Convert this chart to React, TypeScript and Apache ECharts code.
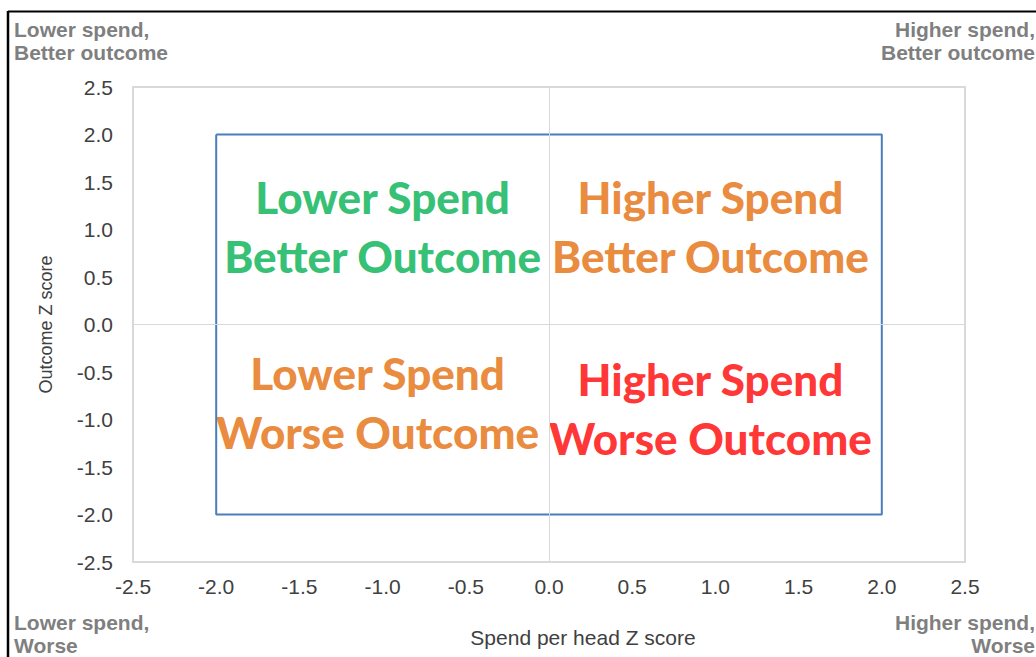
import React, { useEffect, useRef } from "react";
import * as echarts from "echarts";

// Axis ticks
const AXIS_MIN = -2.5;
const AXIS_MAX = 2.5;
const AXIS_STEP = 0.5;

// Blue boundary box (x, y corners)
const boxX = [-2, 2, 2, -2, -2];
const boxY = [2, 2, -2, -2, 2];

// Quadrant labels
const quadLabels = [
  "Lower Spend\nBetter Outcome",
  "Higher Spend\nBetter Outcome",
  "Lower Spend\nWorse Outcome",
  "Higher Spend\nWorse Outcome",
];
const quadX = [-1.0, 0.97, -1.03, 0.97];
const quadY = [1.03, 1.03, -0.825, -0.88];
const quadColors = ["#00b050", "#e46c0a", "#e46c0a", "#ff0000"];

// Corner captions
const cornerTexts = [
  "Lower spend,\nBetter outcome",
  "Higher spend,\nBetter outcome",
  "Lower spend,\nWorse",
  "Higher spend,\nWorse",
];

const xAxisName = "Spend per head Z score";
const yAxisName = "Outcome Z score";

export default function App() {
  const ref = useRef<HTMLDivElement>(null);

  useEffect(() => {
    if (!ref.current) return;
    const chart = echarts.init(ref.current, undefined, { renderer: "svg" });
    const labelFont = {
      fontFamily: "Liberation Sans, Arial, sans-serif",
      fontSize: 21,
      color: "#404040",
    };
    const cornerStyle = {
      fontFamily: "Liberation Sans, Arial, sans-serif",
      fontSize: 21,
      fontWeight: "bold" as const,
      fill: "#7f7f7f",
      lineHeight: 23,
    };
    chart.setOption({
      animation: false,
      backgroundColor: "#ffffff",
      grid: {
        left: 133,
        right: 1036 - 965,
        top: 87,
        bottom: 657 - 562,
        show: true,
        borderColor: "#d9d9d9",
        borderWidth: 2,
        containLabel: false,
      },
      xAxis: {
        type: "value",
        min: AXIS_MIN,
        max: AXIS_MAX,
        interval: AXIS_STEP,
        name: xAxisName,
        nameLocation: "middle",
        nameGap: 65,
        nameTextStyle: { ...labelFont, padding: [0, 0, 0, 68] },
        axisLine: { show: false },
        axisTick: { show: false },
        splitLine: { show: false },
        axisLabel: {
          ...labelFont,
          margin: 14,
          formatter: (v: number) => v.toFixed(1),
        },
      },
      yAxis: {
        type: "value",
        min: AXIS_MIN,
        max: AXIS_MAX,
        interval: AXIS_STEP,
        name: yAxisName,
        nameLocation: "middle",
        nameGap: 78,
        nameTextStyle: { ...labelFont, fontSize: 18 },
        axisLine: { show: false },
        axisTick: { show: false },
        splitLine: { show: false },
        axisLabel: {
          ...labelFont,
          margin: 20,
          formatter: (v: number) => v.toFixed(1),
        },
      },
      series: [
        {
          type: "line",
          data: [],
          silent: true,
          markLine: {
            symbol: "none",
            silent: true,
            label: { show: false },
            lineStyle: { color: "#d9d9d9", width: 1, type: "solid" },
            data: [{ xAxis: 0 }, { yAxis: 0 }],
          },
        },
        {
          type: "line",
          data: boxX.map((x, i) => [x, boxY[i]]),
          symbol: "none",
          lineStyle: { color: "#4a7ebb", width: 2 },
          silent: true,
        },
        {
          type: "scatter",
          symbolSize: 0,
          silent: true,
          data: quadLabels.map((t, i) => ({
            value: [quadX[i], quadY[i]],
            label: {
              show: true,
              position: "inside",
              formatter: t,
              color: quadColors[i],
              fontFamily: "Lato, 'Open Sans', sans-serif",
              fontWeight: 900,
              fontSize: 44,
              lineHeight: 59,
              align: "center",
              verticalAlign: "middle",
            },
          })),
        },
      ],
      graphic: [
        {
          type: "line",
          shape: { x1: 8, y1: 11.5, x2: 1040, y2: 11.5 },
          style: { stroke: "#000000", lineWidth: 2 },
        },
        {
          type: "line",
          shape: { x1: 8, y1: 11, x2: 8, y2: 660 },
          style: { stroke: "#000000", lineWidth: 2.5 },
        },
        {
          type: "text",
          x: 14,
          y: 18,
          style: { ...cornerStyle, text: cornerTexts[0], align: "left", verticalAlign: "top" },
        },
        {
          type: "text",
          x: 1035,
          y: 18,
          style: { ...cornerStyle, text: cornerTexts[1], align: "right", verticalAlign: "top" },
        },
        {
          type: "text",
          x: 14,
          y: 611,
          style: { ...cornerStyle, text: cornerTexts[2], align: "left", verticalAlign: "top" },
        },
        {
          type: "text",
          x: 1035,
          y: 611,
          style: { ...cornerStyle, text: cornerTexts[3], align: "right", verticalAlign: "top" },
        },
      ],
    });
    return () => chart.dispose();
  }, []);

  return (
    <div
      ref={ref}
      style={{ position: "absolute", left: 0, top: 0, width: 1036, height: 657 }}
    />
  );
}
